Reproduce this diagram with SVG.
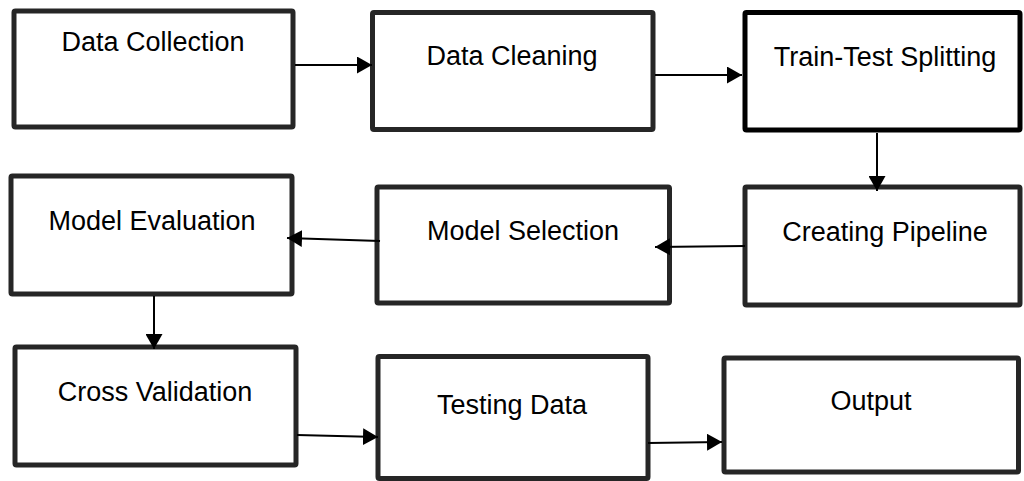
<svg xmlns="http://www.w3.org/2000/svg" width="1024" height="481" viewBox="0 0 1024 481">
  <style>
    .box { fill: #ffffff; stroke: #262626; stroke-width: 5; }
    .box.dark { stroke: #000000; }
    .lbl { font-family: "Liberation Sans", Arial, sans-serif; font-size: 27px; fill: #000000; text-anchor: middle; }
    .conn { stroke: #000000; stroke-width: 2; fill: none; marker-end: url(#arrow); }
  </style>
  <defs>
    <marker id="arrow" markerUnits="userSpaceOnUse" markerWidth="16" markerHeight="17" refX="15" refY="8.5" orient="auto">
      <path d="M0,0 L15,8.5 L0,17 z" fill="#000000"/>
    </marker>
  </defs>
  <rect x="0" y="0" width="1024" height="481" fill="#ffffff"/>

  <g id="data-collection">
    <rect class="box" x="14" y="11" width="279" height="116" rx="1.5"/>
    <text class="lbl" x="153" y="51">Data Collection</text>
  </g>
  <g id="data-cleaning">
    <rect class="box" x="372.5" y="12.5" width="280.5" height="117" rx="1.5"/>
    <text class="lbl" x="512" y="65">Data Cleaning</text>
  </g>
  <g id="train-test-splitting">
    <rect class="box dark" x="745" y="12.5" width="275" height="117.5" rx="1.5"/>
    <text class="lbl" x="885" y="66">Train-Test Splitting</text>
  </g>
  <g id="creating-pipeline">
    <rect class="box" x="745" y="187" width="275" height="118" rx="1.5"/>
    <text class="lbl" x="885" y="241">Creating Pipeline</text>
  </g>
  <g id="model-selection">
    <rect class="box" x="377" y="187" width="292.5" height="116" rx="1.5"/>
    <text class="lbl" x="523" y="240">Model Selection</text>
  </g>
  <g id="model-evaluation">
    <rect class="box" x="11" y="176" width="281" height="118" rx="1.5"/>
    <text class="lbl" x="152" y="230">Model Evaluation</text>
  </g>
  <g id="cross-validation">
    <rect class="box" x="15" y="347" width="281" height="118" rx="1.5"/>
    <text class="lbl" x="155" y="401">Cross Validation</text>
  </g>
  <g id="testing-data">
    <rect class="box" x="378" y="356.5" width="270" height="122" rx="1.5"/>
    <text class="lbl" x="512" y="414">Testing Data</text>
  </g>
  <g id="output">
    <rect class="box" x="724" y="358" width="294.5" height="114" rx="1.5"/>
    <text class="lbl" x="871" y="410">Output</text>
  </g>

  <g id="connectors">
    <line class="conn" x1="295" y1="65" x2="372" y2="65"/>
    <line class="conn" x1="655" y1="75" x2="742" y2="75"/>
    <line class="conn" x1="877" y1="133" x2="877" y2="191"/>
    <line class="conn" x1="745" y1="246" x2="655" y2="247"/>
    <line class="conn" x1="380" y1="241" x2="287" y2="238"/>
    <line class="conn" x1="154" y1="296" x2="154" y2="349"/>
    <line class="conn" x1="297" y1="435" x2="378" y2="437"/>
    <line class="conn" x1="648" y1="443" x2="722" y2="442"/>
  </g>
</svg>
